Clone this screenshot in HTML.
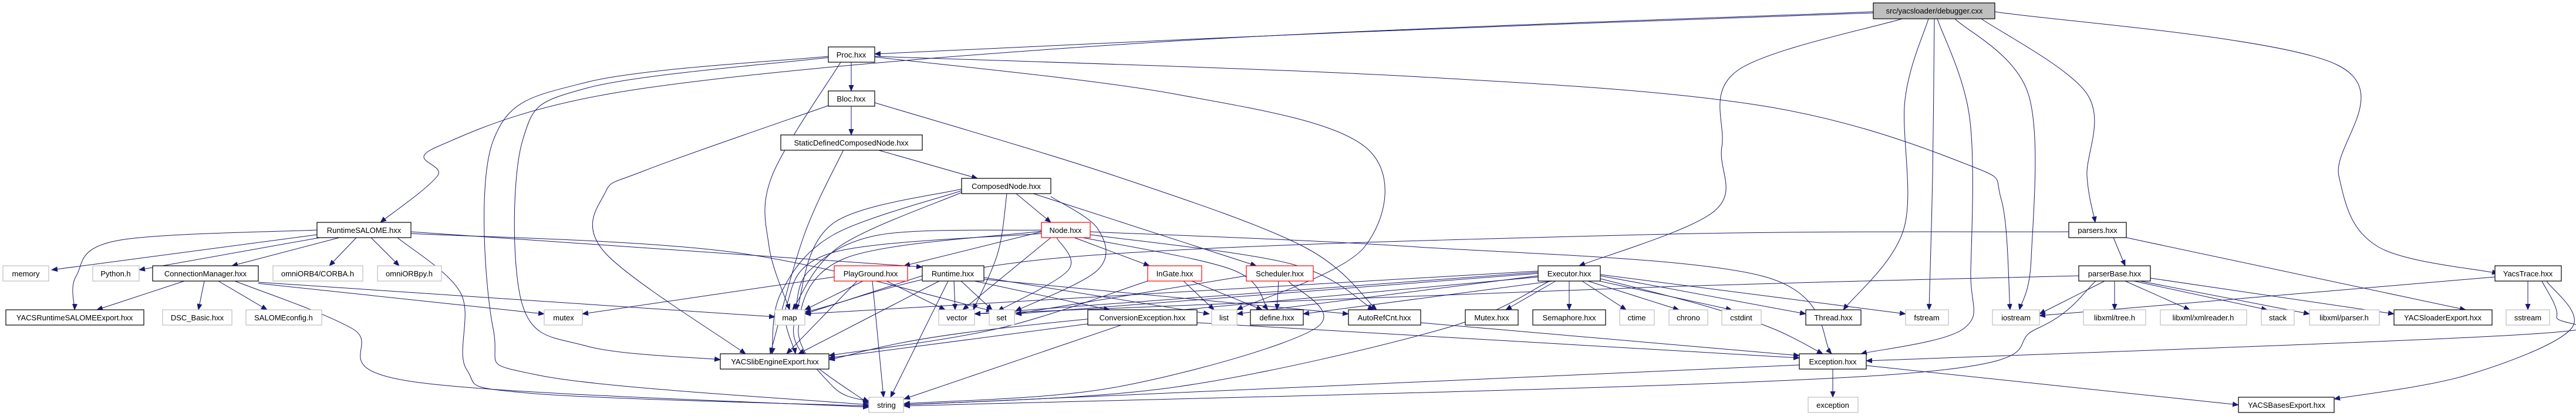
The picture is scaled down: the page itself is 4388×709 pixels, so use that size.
<!DOCTYPE html>
<html><head><meta charset="utf-8"><style>
html,body{margin:0;padding:0;background:#fff;width:4388px;height:709px;overflow:hidden}
svg{display:block}
text{font-family:"Liberation Sans",sans-serif;font-size:13px;fill:#000;text-anchor:middle}
.k{fill:#fff;stroke:#000;stroke-width:1.2}
.g{fill:#fff;stroke:#bfbfbf;stroke-width:1.2}
.r{fill:#fff;stroke:#ff0000;stroke-width:1.2}
</style></head><body>
<svg id="s" width="4388" height="709" viewBox="0 0 4388 709" xmlns="http://www.w3.org/2000/svg">
<defs><marker id="a" markerWidth="11" markerHeight="9" refX="10" refY="4.5" orient="auto" markerUnits="userSpaceOnUse"><polygon points="0,0 11,4.5 0,9" fill="#191970"/></marker></defs>
<g id="edges" fill="none" stroke="#191970" stroke-width="1"></g>
<g id="nodes">
<rect x="3191" y="5" width="207" height="27" fill="#bfbfbf" stroke="#000" stroke-width="1.2"/><text x="3295" y="23">src/yacsloader/debugger.cxx</text>
<rect class="k" x="1411" y="80" width="79" height="26"/><text x="1450" y="98">Proc.hxx</text>
<rect class="k" x="1411" y="155" width="79" height="26"/><text x="1450" y="173">Bloc.hxx</text>
<rect class="k" x="1330" y="230" width="241" height="26"/><text x="1450" y="248">StaticDefinedComposedNode.hxx</text>
<rect class="k" x="1638" y="304" width="152" height="26"/><text x="1714" y="322">ComposedNode.hxx</text>
<rect class="k" x="540" y="379" width="160" height="26"/><text x="620" y="397">RuntimeSALOME.hxx</text>
<rect class="r" x="1774" y="379" width="83" height="26"/><text x="1815" y="397">Node.hxx</text>
<rect class="k" x="3524" y="379" width="98" height="26"/><text x="3573" y="397">parsers.hxx</text>
<rect class="g" x="5" y="453" width="78" height="26"/><text x="44" y="471">memory</text>
<rect class="g" x="158" y="453" width="79" height="26"/><text x="197" y="471">Python.h</text>
<rect class="k" x="260" y="453" width="180" height="26"/><text x="350" y="471">ConnectionManager.hxx</text>
<rect class="g" x="465" y="453" width="153" height="26"/><text x="541" y="471">omniORB4/CORBA.h</text>
<rect class="g" x="643" y="453" width="109" height="26"/><text x="697" y="471">omniORBpy.h</text>
<rect class="r" x="1421" y="453" width="125" height="26"/><text x="1483" y="471">PlayGround.hxx</text>
<rect class="k" x="1571" y="453" width="105" height="26"/><text x="1623" y="471">Runtime.hxx</text>
<rect class="r" x="1955" y="453" width="92" height="26"/><text x="2001" y="471">InGate.hxx</text>
<rect class="r" x="2123" y="453" width="114" height="26"/><text x="2180" y="471">Scheduler.hxx</text>
<rect class="k" x="2620" y="453" width="106" height="26"/><text x="2673" y="471">Executor.hxx</text>
<rect class="k" x="3541" y="453" width="122" height="26"/><text x="3602" y="471">parserBase.hxx</text>
<rect class="k" x="4250" y="453" width="113" height="26"/><text x="4306" y="471">YacsTrace.hxx</text>
<rect class="k" x="10" y="528" width="235" height="26"/><text x="127" y="546">YACSRuntimeSALOMEExport.hxx</text>
<rect class="g" x="277" y="528" width="118" height="26"/><text x="336" y="546">DSC_Basic.hxx</text>
<rect class="g" x="419" y="528" width="129" height="26"/><text x="483" y="546">SALOMEconfig.h</text>
<rect class="g" x="927" y="528" width="65" height="26"/><text x="960" y="546">mutex</text>
<rect class="g" x="1320" y="528" width="51" height="26"/><text x="1345" y="546">map</text>
<rect class="g" x="1599" y="528" width="61" height="26"/><text x="1630" y="546">vector</text>
<rect class="g" x="1685" y="528" width="43" height="26"/><text x="1706" y="546">set</text>
<rect class="k" x="1853" y="528" width="186" height="26"/><text x="1946" y="546">ConversionException.hxx</text>
<rect class="g" x="2064" y="528" width="43" height="26"/><text x="2085" y="546">list</text>
<rect class="k" x="2130" y="528" width="90" height="26"/><text x="2175" y="546">define.hxx</text>
<rect class="k" x="2297" y="528" width="123" height="26"/><text x="2358" y="546">AutoRefCnt.hxx</text>
<rect class="k" x="2496" y="528" width="90" height="26"/><text x="2541" y="546">Mutex.hxx</text>
<rect class="k" x="2611" y="528" width="124" height="26"/><text x="2673" y="546">Semaphore.hxx</text>
<rect class="g" x="2759" y="528" width="59" height="26"/><text x="2788" y="546">ctime</text>
<rect class="g" x="2843" y="528" width="66" height="26"/><text x="2876" y="546">chrono</text>
<rect class="g" x="2933" y="528" width="67" height="26"/><text x="2966" y="546">cstdint</text>
<rect class="k" x="3076" y="528" width="94" height="26"/><text x="3123" y="546">Thread.hxx</text>
<rect class="g" x="3246" y="528" width="73" height="26"/><text x="3282" y="546">fstream</text>
<rect class="g" x="3394" y="528" width="80" height="26"/><text x="3434" y="546">iostream</text>
<rect class="g" x="3549" y="528" width="106" height="26"/><text x="3602" y="546">libxml/tree.h</text>
<rect class="g" x="3680" y="528" width="147" height="26"/><text x="3753" y="546">libxml/xmlreader.h</text>
<rect class="g" x="3852" y="528" width="56" height="26"/><text x="3880" y="546">stack</text>
<rect class="g" x="3934" y="528" width="119" height="26"/><text x="3993" y="546">libxml/parser.h</text>
<rect class="k" x="4078" y="528" width="167" height="26"/><text x="4161" y="546">YACSloaderExport.hxx</text>
<rect class="g" x="4269" y="528" width="74" height="26"/><text x="4306" y="546">sstream</text>
<rect class="k" x="1227" y="603" width="185" height="26"/><text x="1320" y="621">YACSlibEngineExport.hxx</text>
<rect class="k" x="3065" y="603" width="114" height="26"/><text x="3122" y="621">Exception.hxx</text>
<rect class="g" x="1480" y="677" width="59" height="26"/><text x="1510" y="695">string</text>
<rect class="g" x="3080" y="677" width="85" height="26"/><text x="3122" y="695">exception</text>
<rect class="k" x="3813" y="677" width="163" height="26"/><text x="3895" y="695">YACSBasesExport.hxx</text>
</g>
</svg>
<script>
var E=[
[[3191,20],[2000,70],[1100,150],[745,250],[745,300],[648,379]],
[[3191,22],[2300,55],[1490,92]],
[[3240,32],[2960,120],[2933,250],[2920,360],[2690,453]],
[[3285,32],[3245,170],[3243,390],[3140,528]],
[[3295,32],[3292,300],[3286,528]],
[[3300,32],[3355,200],[3357,460],[3345,560],[3170,603]],
[[3330,32],[3455,160],[3460,440],[3440,528]],
[[3375,32],[3555,160],[3555,300],[3569,379]],
[[3398,20],[3980,110],[3984,300],[4050,420],[4255,466]],
[[1450,106],[1450,155]],
[[1432,106],[1315,300],[1310,420],[1345,528]],
[[1411,96],[1000,140],[840,240],[840,560],[920,640],[1480,690]],
[[1411,98],[1000,150],[890,240],[890,520],[1000,590],[1227,613]],
[[1490,97],[2000,160],[2325,250],[2325,420],[2107,528]],
[[1490,96],[2400,130],[3000,180],[3350,280],[3409,340],[3424,528]],
[[1450,181],[1450,230]],
[[1411,180],[1100,290],[1030,330],[1030,430],[1270,603]],
[[1490,175],[1900,300],[2220,420],[2345,528]],
[[1493,255],[1665,304]],
[[1437,255],[1370,400],[1312,603]],
[[1731,330],[1790,379]],
[[1760,330],[2140,453]],
[[1715,330],[1700,430],[1658,528]],
[[1790,335],[1870,390],[1870,460],[1730,530]],
[[1638,322],[1420,380],[1360,520],[1365,600],[1480,688]],
[[1638,325],[1420,400],[1330,500],[1315,603]],
[[1638,328],[1430,420],[1350,528]],
[[1774,392],[1500,400],[1380,460],[1355,528]],
[[1774,395],[1540,453]],
[[1790,405],[1640,528]],
[[1800,405],[1820,460],[1700,530]],
[[1774,398],[1420,430],[1340,520],[1355,603]],
[[1774,394],[1440,440],[1360,560],[1420,660],[1480,684]],
[[1830,405],[1958,453]],
[[1845,405],[2100,460],[2160,528]],
[[1857,400],[2200,450],[2340,528]],
[[1857,395],[2400,420],[3000,470],[3120,603]],
[[540,392],[200,410],[130,470],[127,528]],
[[540,400],[88,460]],
[[545,405],[237,460]],
[[578,405],[395,453]],
[[607,405],[561,453]],
[[632,405],[680,453]],
[[677,405],[785,500],[795,630],[900,670],[1480,692]],
[[700,395],[1571,455]],
[[700,398],[1250,430],[1690,530]],
[[314,479],[165,528]],
[[348,479],[338,528]],
[[372,479],[455,528]],
[[440,483],[927,535]],
[[440,481],[1320,540]],
[[400,479],[600,560],[700,650],[1480,694]],
[[1421,472],[992,535]],
[[1470,479],[1371,528]],
[[1510,479],[1610,528]],
[[1486,479],[1505,677]],
[[1460,479],[1340,603]],
[[1625,479],[1627,528]],
[[1637,479],[1690,528]],
[[1615,479],[1517,677]],
[[1660,479],[1890,528]],
[[1676,473],[2060,535]],
[[1676,476],[2297,535]],
[[1600,479],[1360,603]],
[[1571,470],[1371,535]],
[[2016,479],[2068,528]],
[[2030,479],[2150,528]],
[[1955,479],[1700,560],[1412,606]],
[[2178,479],[2175,528]],
[[2195,479],[2240,560],[1900,660],[1540,688]],
[[2123,470],[1730,535]],
[[1853,552],[1412,610]],
[[1910,554],[1540,680]],
[[2039,550],[3065,610]],
[[2420,550],[3065,606]],
[[2650,479],[2565,528]],
[[2673,479],[2673,528]],
[[2695,479],[2770,528]],
[[2705,479],[2860,528]],
[[2715,477],[2950,528]],
[[2726,470],[3076,535]],
[[2726,468],[3246,535]],
[[2726,475],[2900,520],[3020,560],[3105,603]],
[[2645,479],[2220,535]],
[[2620,470],[2107,535]],
[[2620,466],[1730,535]],
[[2620,464],[1660,535]],
[[2620,462],[1371,535]],
[[2640,479],[2460,560],[2000,660],[1540,690]],
[[2620,472],[1700,560],[1412,613]],
[[3524,395],[2800,400],[1800,440],[1371,532]],
[[3541,470],[2800,490],[1660,535]],
[[3570,479],[3470,560],[3200,640],[1540,692]],
[[3585,479],[3474,535]],
[[3602,479],[3602,528]],
[[3620,479],[3730,528]],
[[3635,479],[3862,528]],
[[3645,479],[3934,535]],
[[3663,474],[4078,535]],
[[3600,405],[3620,453]],
[[3622,405],[4200,528]],
[[4306,479],[4306,528]],
[[4250,472],[3474,538]],
[[4330,479],[4355,540],[4300,570],[3179,615]],
[[4338,479],[4380,560],[4200,640],[3976,680]],
[[3179,623],[3813,690]],
[[3122,629],[3122,677]],
[[3065,622],[1540,690]]
];
var g=document.getElementById('edges'),d,p,i,s='';
E.forEach(function(pt){
 d='M'+pt[0][0]+','+pt[0][1];
 if(pt.length==2){d+=' L'+pt[1][0]+','+pt[1][1];}
 else for(i=0;i<pt.length-1;i++){
  var p0=pt[i-1]||pt[i],p1=pt[i],p2=pt[i+1],p3=pt[i+2]||p2;
  var c1=[p1[0]+(p2[0]-p0[0])/6,p1[1]+(p2[1]-p0[1])/6],c2=[p2[0]-(p3[0]-p1[0])/6,p2[1]-(p3[1]-p1[1])/6];
  d+=' C'+c1[0]+','+c1[1]+' '+c2[0]+','+c2[1]+' '+p2[0]+','+p2[1];
 }
 s+='<path d="'+d+'" marker-end="url(#a)"/>';
});
g.innerHTML=s;
</script>
</body></html>
